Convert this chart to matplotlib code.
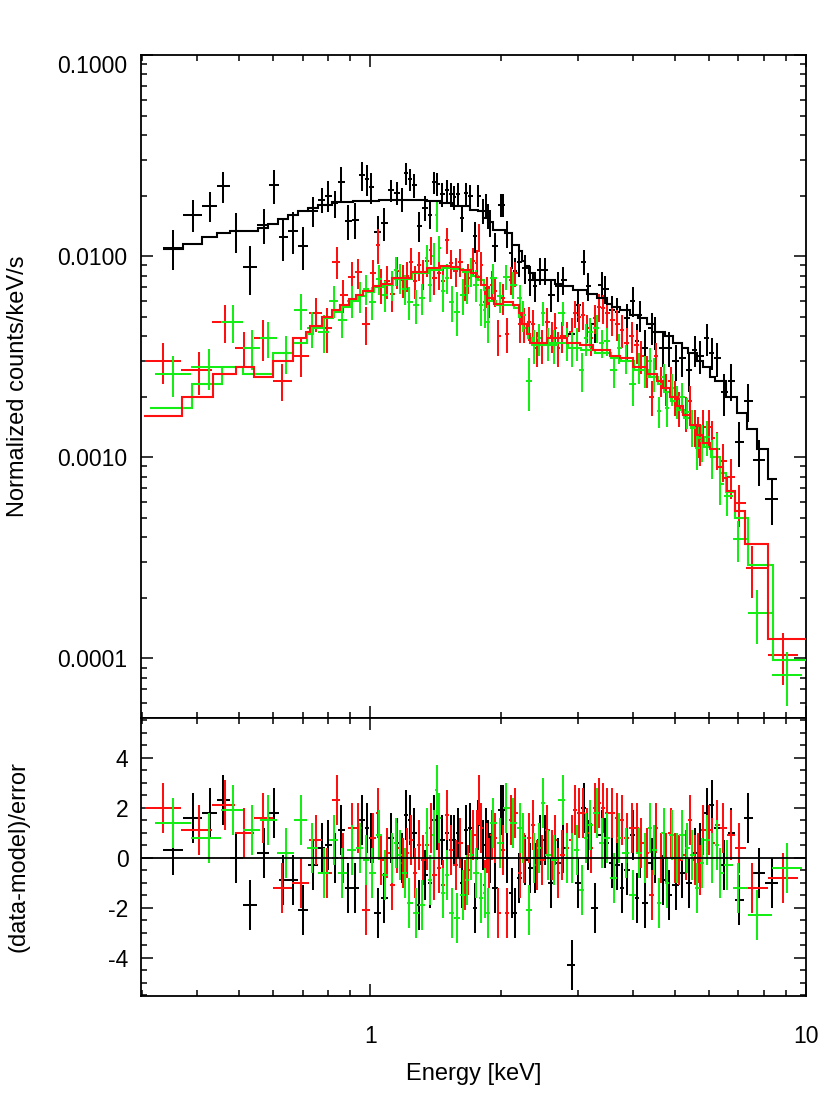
import numpy as np
import matplotlib
matplotlib.use("Agg")
import matplotlib.pyplot as plt
from matplotlib.ticker import FixedLocator, NullFormatter, MultipleLocator, FixedFormatter

plt.rcParams['font.family'] = ['Liberation Sans', 'DejaVu Sans']
plt.rcParams['axes.unicode_minus'] = False

# ---------------- data: black spectrum ----------------
black_E = [0.353, 0.393, 0.430, 0.460, 0.493, 0.531, 0.571, 0.603,
           0.632, 0.666, 0.702, 0.740, 0.776, 0.800, 0.831, 0.858,
           0.890, 0.924, 0.958, 0.984, 1.005, 1.040, 1.077, 1.117,
           1.153, 1.184, 1.210, 1.235, 1.262, 1.295, 1.337, 1.373,
           1.402, 1.424, 1.462, 1.501, 1.534, 1.558, 1.592, 1.626,
           1.660, 1.696, 1.741, 1.770, 1.815, 1.845, 1.864, 1.884,
           1.930, 1.997, 2.020, 2.060, 2.115, 2.150, 2.200, 2.270,
           2.330, 2.390, 2.450, 2.520, 2.600, 2.700, 2.770, 2.900,
           3.000, 3.090, 3.160, 3.280, 3.400, 3.460, 3.590, 3.690,
           3.780, 3.880, 4.010, 4.100, 4.160, 4.270, 4.430, 4.500,
           4.700, 4.850, 5.030, 5.200, 5.390, 5.560, 5.710, 5.930,
           6.080, 6.250, 6.490, 6.740, 7.020, 7.360, 7.800, 8.350]
black_rate = [0.0110, 0.0161, 0.0178, 0.0222, 0.0134, 0.0088, 0.0143, 0.0225,
              0.0125, 0.0134, 0.0112, 0.0168, 0.0191, 0.0200, 0.0183, 0.0233,
              0.0150, 0.0152, 0.0252, 0.0241, 0.0220, 0.0132, 0.0146, 0.0212,
              0.0207, 0.0191, 0.0258, 0.0241, 0.0225, 0.0141, 0.0174, 0.0161,
              0.0233, 0.0228, 0.0203, 0.0212, 0.0203, 0.0196, 0.0203, 0.0155,
              0.0205, 0.0200, 0.0126, 0.0200, 0.0168, 0.0180, 0.0159, 0.0147,
              0.0112, 0.0180, 0.0180, 0.0130, 0.0104, 0.0084, 0.0094, 0.0087,
              0.0076, 0.0071, 0.0085, 0.0085, 0.0064, 0.0071, 0.0076, 0.0041,
              0.0057, 0.0094, 0.0071, 0.0046, 0.0072, 0.0069, 0.0054, 0.0053,
              0.0043, 0.0049, 0.0060, 0.0038, 0.0051, 0.0035, 0.0044, 0.0042,
              0.0035, 0.0035, 0.0030, 0.0031, 0.0027, 0.0034, 0.0032, 0.0039,
              0.0033, 0.0031, 0.0021, 0.0024, 0.00119, 0.0019, 0.00097, 0.00062]
black_err = [0.0025, 0.0029, 0.0031, 0.0039, 0.0030, 0.0024, 0.0028, 0.0043,
             0.0030, 0.0031, 0.0027, 0.0028, 0.0028, 0.0035, 0.0028, 0.0044,
             0.0030, 0.0031, 0.0041, 0.0042, 0.0039, 0.0026, 0.0027, 0.0027,
             0.0027, 0.0026, 0.0032, 0.0031, 0.0030, 0.0024, 0.0025, 0.0025,
             0.0030, 0.0030, 0.0028, 0.0028, 0.0028, 0.0027, 0.0027, 0.0023,
             0.0027, 0.0026, 0.0022, 0.0025, 0.0024, 0.0024, 0.0023, 0.0022,
             0.0019, 0.0024, 0.0024, 0.0020, 0.0018, 0.0014, 0.0015, 0.0014,
             0.0013, 0.0012, 0.0013, 0.0013, 0.0011, 0.0012, 0.0012, 0.0007,
             0.0010, 0.0013, 0.0011, 0.0009, 0.0011, 0.0011, 0.0009, 0.0009,
             0.0008, 0.0009, 0.0010, 0.0008, 0.0009, 0.0008, 0.0008, 0.0008,
             0.0007, 0.0007, 0.0006, 0.0006, 0.0006, 0.0006, 0.0006, 0.0007,
             0.0006, 0.0006, 0.0005, 0.0005, 0.0003, 0.0004, 0.00025, 0.00016]
black_resid = [0.3, 1.6, 1.8, 2.3, 0.0, -1.9, 0.2, 1.8,
               -0.9, -0.9, -2.1, -0.3, 0.4, 0.5, 0.0, 1.1,
               -1.2, -1.2, 1.5, 1.2, 0.8, -2.2, -1.6, 0.8,
               0.6, 0.0, 1.7, 1.5, 1.0, -1.9, -0.7, -1.0,
               1.5, 1.3, 0.7, 1.0, 0.7, 0.7, 1.0, -1.0,
               1.1, 1.2, -2.0, 1.3, 0.5, 1.0, 0.5, 0.0,
               -1.2, 1.9, 1.9, 0.0, -1.4, -2.2, -0.8, -0.1,
               -0.4, -0.4, 0.7, 0.7, -1.0, -0.2, 0.4, -4.3,
               -1.0, 2.0, 0.5, -2.0, 0.9, 0.6, -0.2, -0.3,
               -1.2, -0.5, 0.9, -1.6, 0.2, -1.8, -0.2, 0.0,
               -0.9, -1.5, -1.1, -0.6, -1.0, 0.2, 0.4, 1.8,
               2.1, 1.2, -0.3, 1.0, -1.7, 1.6, -0.6, -1.0]
black_model_edges = [0.335, 0.373, 0.411, 0.446, 0.477, 0.553, 0.584, 0.615, 0.649, 0.684,
                     0.721, 0.760, 0.818, 0.914, 1.05, 1.35, 1.45, 1.55, 1.696, 1.77,
                     1.815, 1.864, 1.915, 2.04, 2.12, 2.20, 2.23, 2.27, 2.32, 2.36,
                     2.66, 2.76, 2.92, 3.15, 3.31, 3.50, 3.59, 3.74, 3.95, 4.11,
                     4.31, 4.50, 4.74, 4.95, 5.19, 5.36, 5.61, 5.79, 6.02, 6.19,
                     6.57, 6.94, 7.32, 7.70, 8.17, 8.60]
black_model = [0.0108, 0.0115, 0.0124, 0.0131, 0.0134, 0.0138, 0.0145, 0.0153, 0.0161, 0.0168,
               0.0174, 0.0180, 0.0185, 0.0189, 0.0191, 0.0187, 0.0183, 0.0178, 0.0170, 0.0168,
               0.0155, 0.0147, 0.0135, 0.0130, 0.0114, 0.0106, 0.0095, 0.0089, 0.0082, 0.0076,
               0.0073, 0.0071, 0.0068, 0.0065, 0.0062, 0.0058, 0.0056, 0.0054, 0.0051, 0.0049,
               0.0046, 0.0042, 0.0040, 0.0037, 0.0035, 0.0033, 0.0030, 0.0028, 0.0025, 0.0024,
               0.0020, 0.00166, 0.00138, 0.0011, 0.00078]

# ---------------- data: red spectrum ----------------
red_E = [0.335, 0.405, 0.465, 0.514, 0.568, 0.628, 0.695, 0.752,
         0.797, 0.840, 0.867, 0.909, 0.939, 0.979, 1.016, 1.043,
         1.060, 1.094, 1.123, 1.153, 1.190, 1.216, 1.242, 1.268,
         1.295, 1.323, 1.351, 1.380, 1.400, 1.440, 1.470, 1.500,
         1.530, 1.570, 1.610, 1.650, 1.680, 1.720, 1.760, 1.780,
         1.800, 1.830, 1.850, 1.870, 1.900, 1.930, 1.970, 2.020,
         2.060, 2.100, 2.150, 2.210, 2.250, 2.320, 2.360, 2.410,
         2.480, 2.550, 2.610, 2.660, 2.700, 2.760, 2.830, 2.900,
         2.950, 3.010, 3.080, 3.150, 3.210, 3.280, 3.350, 3.420,
         3.500, 3.590, 3.690, 3.780, 3.880, 3.990, 4.090, 4.180,
         4.310, 4.430, 4.520, 4.650, 4.770, 4.900, 5.000, 5.110,
         5.310, 5.420, 5.560, 5.650, 5.710, 5.800, 5.990, 6.090,
         6.250, 6.440, 6.720, 7.020, 7.530, 8.860]
red_rate = [0.0030, 0.0027, 0.0047, 0.0035, 0.0039, 0.0024, 0.0032, 0.0052,
            0.0044, 0.0094, 0.0064, 0.0079, 0.0083, 0.0046, 0.0082, 0.0114,
            0.0072, 0.0075, 0.0065, 0.0084, 0.0076, 0.0080, 0.0094, 0.0075,
            0.0090, 0.0082, 0.0095, 0.0107, 0.0078, 0.0082, 0.0075, 0.0120,
            0.0092, 0.0084, 0.0094, 0.0072, 0.0078, 0.0095, 0.0092, 0.0125,
            0.0090, 0.0059, 0.0067, 0.0060, 0.0072, 0.0067, 0.0040, 0.0062,
            0.0041, 0.0076, 0.0082, 0.0046, 0.0046, 0.0047, 0.0046, 0.0035,
            0.0036, 0.0047, 0.0040, 0.0044, 0.0035, 0.0040, 0.0040, 0.0042,
            0.0052, 0.0050, 0.0051, 0.0044, 0.0039, 0.0049, 0.0056, 0.0055,
            0.0052, 0.0048, 0.0046, 0.0043, 0.0037, 0.0040, 0.0036, 0.0032,
            0.0027, 0.0020, 0.0032, 0.0024, 0.0022, 0.0024, 0.0020, 0.00176,
            0.00166, 0.0019, 0.00142, 0.00129, 0.00118, 0.00142, 0.00142, 0.00125,
            0.00110, 0.00096, 0.00080, 0.00059, 0.00028, 0.000104]
red_err = [0.0007, 0.00065, 0.0010, 0.0007, 0.0009, 0.0005, 0.0007, 0.0010,
           0.0011, 0.0017, 0.0012, 0.0014, 0.0014, 0.0010, 0.0014, 0.0023,
           0.0014, 0.0014, 0.0012, 0.0015, 0.0014, 0.0014, 0.0016, 0.0014,
           0.0015, 0.0014, 0.0016, 0.0017, 0.0014, 0.0014, 0.0013, 0.0018,
           0.0015, 0.0014, 0.0015, 0.0012, 0.0013, 0.0015, 0.0015, 0.0020,
           0.0015, 0.0011, 0.0012, 0.0011, 0.0012, 0.0011, 0.0008, 0.0011,
           0.0008, 0.0012, 0.0012, 0.0009, 0.0009, 0.0009, 0.0008, 0.0007,
           0.0007, 0.0008, 0.0007, 0.0008, 0.0007, 0.0007, 0.0007, 0.0007,
           0.0008, 0.0008, 0.0008, 0.0007, 0.0007, 0.0008, 0.0009, 0.0009,
           0.0009, 0.0008, 0.0008, 0.0008, 0.0007, 0.0007, 0.0007, 0.0006,
           0.0005, 0.0004, 0.0005, 0.0004, 0.0004, 0.0004, 0.0004, 0.00035,
           0.00033, 0.00035, 0.0003, 0.0003, 0.00028, 0.0003, 0.0003, 0.00027,
           0.00024, 0.00021, 0.00018, 0.00014, 0.00008, 0.00003]
red_resid = [2.0, 1.1, 2.1, 1.0, 1.6, -1.2, -1.0, 0.7,
             -0.6, 2.3, 0.0, 1.2, 1.2, -2.1, 0.8, 1.8,
             -0.1, 0.2, -1.1, 0.4, -0.2, 0.2, 0.7, -0.6,
             0.5, -0.1, 0.5, 1.2, -0.7, -0.4, -1.1, 1.7,
             0.3, -0.3, 0.6, -1.1, -0.5, 0.9, 0.9, 2.3,
             1.2, -1.1, 0.4, -0.2, 0.9, 0.8, -2.2, 0.3,
             -2.2, 1.5, 1.8, -0.6, 0.0, 0.8, 1.3, -0.3,
             -0.1, 1.1, 0.1, 0.7, -0.6, 0.1, 0.4, 0.7,
             1.9, 1.8, 1.8, 1.0, 0.4, 2.0, 2.2, 2.0,
             1.8, 1.8, 1.6, 1.5, 0.8, 1.2, 1.2, 0.6,
             0.2, -1.5, 1.2, 0.0, 0.0, 1.0, 0.0, -0.1,
             0.1, 1.5, -0.1, 0.0, -0.5, 1.1, 1.1, 0.6,
             1.3, 1.2, 0.9, 0.4, -1.2, -0.8]
red_model_edges = [0.303, 0.37, 0.436, 0.493, 0.542, 0.60, 0.666, 0.713, 0.728, 0.776,
                   0.818, 0.853, 0.895, 0.929, 0.964, 1.016, 1.06, 1.12, 1.24, 1.35,
                   1.45, 1.53, 1.61, 1.70, 1.75, 1.80, 1.85, 1.92, 2.02, 2.13,
                   2.19, 2.23, 2.29, 2.33, 2.55, 2.83, 3.03, 3.25, 3.55, 3.74,
                   4.01, 4.31, 4.55, 4.70, 4.87, 5.05, 5.22, 5.42, 5.61, 5.80,
                   6.02, 6.25, 6.44, 6.60, 6.87, 7.25, 8.17, 10.0]
red_model = [0.0016, 0.0020, 0.0026, 0.0028, 0.0025, 0.0030, 0.0039, 0.0042, 0.0045, 0.0050,
             0.0054, 0.0057, 0.0061, 0.0064, 0.0067, 0.0071, 0.0073, 0.0078, 0.0083, 0.0087,
             0.0089, 0.0088, 0.0085, 0.0082, 0.0079, 0.0072, 0.0062, 0.0058, 0.0059, 0.0057,
             0.0052, 0.0046, 0.0041, 0.0037, 0.0039, 0.0037, 0.0036, 0.0034, 0.0032, 0.0031,
             0.0028, 0.0026, 0.0024, 0.0022, 0.0020, 0.0018, 0.00163, 0.00145, 0.00129, 0.00118,
             0.0011, 0.00089, 0.00079, 0.00068, 0.00054, 0.00037, 0.000125]

# ---------------- data: green spectrum ----------------
green_E = [0.353, 0.427, 0.485, 0.536, 0.584, 0.642, 0.695, 0.736,
           0.784, 0.827, 0.863, 0.909, 0.949, 0.979, 1.010, 1.048,
           1.080, 1.120, 1.147, 1.170, 1.200, 1.230, 1.275, 1.316,
           1.350, 1.370, 1.400, 1.420, 1.440, 1.470, 1.500, 1.540,
           1.580, 1.630, 1.670, 1.700, 1.750, 1.800, 1.830, 1.860,
           1.915, 1.990, 2.050, 2.130, 2.210, 2.240, 2.320, 2.380,
           2.440, 2.490, 2.560, 2.640, 2.770, 2.830, 2.900, 2.980,
           3.060, 3.130, 3.190, 3.310, 3.400, 3.490, 3.630, 3.720,
           3.860, 4.010, 4.140, 4.270, 4.390, 4.480, 4.600, 4.720,
           4.800, 4.920, 5.060, 5.190, 5.340, 5.480, 5.630, 5.770,
           5.930, 6.090, 6.250, 6.350, 6.600, 6.990, 7.720, 9.030]
green_rate = [0.0026, 0.0028, 0.0047, 0.0035, 0.0039, 0.0033, 0.0054, 0.0044,
              0.0042, 0.0060, 0.0048, 0.0060, 0.0063, 0.0069, 0.0059, 0.0077,
              0.0064, 0.0072, 0.0085, 0.0078, 0.0069, 0.0059, 0.0057, 0.0062,
              0.0098, 0.0072, 0.0100, 0.0160, 0.0110, 0.0067, 0.0078, 0.0059,
              0.0053, 0.0064, 0.0071, 0.0084, 0.0072, 0.0057, 0.0054, 0.0047,
              0.0078, 0.0063, 0.0079, 0.0072, 0.0062, 0.0051, 0.0024, 0.0036,
              0.0039, 0.0052, 0.0037, 0.0036, 0.0052, 0.0037, 0.0035, 0.0037,
              0.0027, 0.0039, 0.0042, 0.0044, 0.0037, 0.0038, 0.0027, 0.0035,
              0.0031, 0.0023, 0.0028, 0.0027, 0.0030, 0.0026, 0.0017, 0.0025,
              0.00176, 0.0022, 0.0019, 0.0020, 0.00168, 0.00142, 0.00111, 0.0012,
              0.00126, 0.0010, 0.0011, 0.00074, 0.00064, 0.00039, 0.000168, 0.000083]
green_err = [0.0006, 0.00065, 0.0010, 0.0008, 0.0008, 0.0007, 0.0011, 0.0009,
             0.0009, 0.0011, 0.0009, 0.0011, 0.0011, 0.0012, 0.0011, 0.0013,
             0.0011, 0.0012, 0.0014, 0.0013, 0.0012, 0.0011, 0.0011, 0.0011,
             0.0016, 0.0013, 0.0016, 0.0028, 0.0016, 0.0014, 0.0013, 0.0012,
             0.0013, 0.0013, 0.0013, 0.0014, 0.0013, 0.0012, 0.0010, 0.0010,
             0.0013, 0.0011, 0.0011, 0.0011, 0.0010, 0.0009, 0.0007, 0.0007,
             0.0007, 0.0007, 0.0007, 0.0007, 0.0007, 0.0007, 0.0007, 0.0007,
             0.0006, 0.0007, 0.0007, 0.0007, 0.0006, 0.0006, 0.0005, 0.0006,
             0.0005, 0.0005, 0.0005, 0.0005, 0.0005, 0.0005, 0.0003, 0.0004,
             0.00035, 0.0004, 0.00035, 0.00035, 0.0003, 0.0003, 0.00025, 0.00025,
             0.00025, 0.00022, 0.00022, 0.00016, 0.00013, 0.00009, 0.00005, 0.000025]
green_resid = [1.4, 0.8, 1.9, 1.1, 1.5, 0.2, 1.5, 0.4,
               -0.6, 0.7, -0.6, 0.3, 0.4, -0.1, -0.6, 0.9,
               -0.7, 0.0, 0.6, 0.1, -0.6, -1.8, -2.2, -1.9,
               1.0, -0.9, 0.9, 2.7, 1.6, -1.4, -0.7, -2.2,
               -2.4, -1.5, -0.9, 0.1, -0.6, -1.6, -1.4, -2.2,
               1.4, 0.6, 2.0, 1.4, 1.2, 0.8, -2.1, 0.0,
               0.4, 2.2, 0.1, -0.1, 2.3, 0.0, 0.0, 0.3,
               -1.3, 0.8, 1.3, 1.8, 0.6, 0.8, -0.8, 0.8,
               0.2, -1.5, 0.2, 0.0, 1.2, 0.3, -1.8, 1.0,
               -1.0, 0.9, 0.0, 0.9, 0.4, 0.1, -1.2, -0.2,
               0.7, 0.0, 0.5, -0.6, -0.3, -1.2, -2.3, -0.4]
green_model_edges = [0.313, 0.39, 0.458, 0.511, 0.60, 0.666, 0.717, 0.74, 0.78, 0.82,
                     0.86, 0.90, 0.94, 0.98, 1.02, 1.07, 1.13, 1.25, 1.36, 1.46,
                     1.55, 1.63, 1.71, 1.77, 1.82, 1.87, 1.94, 2.04, 2.14, 2.20,
                     2.24, 2.30, 2.35, 2.58, 2.85, 3.05, 3.28, 3.57, 3.76, 4.03,
                     4.33, 4.57, 4.72, 4.90, 5.08, 5.25, 5.45, 5.64, 5.83, 6.05,
                     6.35, 6.57, 6.87, 7.36, 8.38, 10.0]
green_model = [0.00176, 0.0023, 0.0028, 0.0026, 0.0033, 0.0037, 0.0041, 0.0044, 0.0049, 0.0053,
               0.0056, 0.0060, 0.0063, 0.0066, 0.0070, 0.0072, 0.0077, 0.0082, 0.0085, 0.0087,
               0.0086, 0.0083, 0.0080, 0.0076, 0.0068, 0.0060, 0.0057, 0.0057, 0.0055, 0.0050,
               0.0044, 0.0039, 0.0036, 0.0037, 0.0035, 0.0034, 0.0033, 0.0031, 0.0030, 0.0027,
               0.0025, 0.0023, 0.0021, 0.0019, 0.00172, 0.00156, 0.00139, 0.00124, 0.00112, 0.00100,
               0.00083, 0.00067, 0.00050, 0.00029, 0.0000977]

y_tick_values = [1e-4, 1e-3, 1e-2, 1e-1]
y_tick_labels = ['0.0001', '0.0010', '0.0100', '0.1000']
x_tick_values = [1, 10]
x_tick_labels = ['1', '10']
res_tick_values = [-4, -2, 0, 2, 4]
res_tick_labels = ['-4', '-2', '0', '2', '4']

COL_BLACK = '#000000'
COL_RED = '#ff1010'
COL_GREEN = '#14ee14'


def bin_halfwidths(E):
    """Contiguous energy bins: edges halfway (in log) between channel centres."""
    E = np.asarray(E, dtype=float)
    mids = np.sqrt(E[:-1] * E[1:])
    lo = np.concatenate([[E[0] ** 2 / mids[0]], mids])
    hi = np.concatenate([mids, [E[-1] ** 2 / mids[-1]]])
    return np.vstack([E - lo, hi - E])


fig = plt.figure(figsize=(8.3, 11.07), dpi=100)
L, W = 141 / 830, 665 / 830
ax1 = fig.add_axes([L, 1 - 718 / 1107, W, 663 / 1107])
ax2 = fig.add_axes([L, 1 - 996 / 1107, W, 278 / 1107], sharex=ax1)

series = [
    (black_E, black_rate, black_err, black_resid, COL_BLACK),
    (red_E, red_rate, red_err, red_resid, COL_RED),
    (green_E, green_rate, green_err, green_resid, COL_GREEN),
]
ELW = 1.45
for E, rate, err, resid, col in series:
    xe = bin_halfwidths(E)
    ax1.errorbar(E, rate, xerr=xe, yerr=err, fmt='none', ecolor=col,
                 elinewidth=ELW, capsize=0, zorder=3)
    ax2.errorbar(E, resid, xerr=xe, yerr=np.ones(len(E)), fmt='none', ecolor=col,
                 elinewidth=ELW, capsize=0, zorder=3)

ax1.stairs(black_model, black_model_edges, baseline=None, color=COL_BLACK, lw=1.5, zorder=4)
ax1.stairs(green_model, green_model_edges, baseline=None, color=COL_GREEN, lw=1.5, zorder=4)
ax1.stairs(red_model, red_model_edges, baseline=None, color=COL_RED, lw=1.5, zorder=5)

ax2.axhline(0, color='black', lw=1.3, zorder=6)

# axes styling
ax1.set_xscale('log')
ax1.set_yscale('log')
ax1.set_xlim(0.298, 10.0)
ax1.set_ylim(5.05e-5, 0.1)
ax2.set_ylim(-5.53, 5.59)

for ax in (ax1, ax2):
    for sp in ax.spines.values():
        sp.set_linewidth(1.3)
    ax.tick_params(which='both', direction='in', top=True, right=True, width=1.1,
                   labelsize=16.5)
    ax.tick_params(which='major', length=8.5)
    ax.tick_params(which='minor', length=4.5)

ax1.yaxis.set_major_locator(FixedLocator(y_tick_values))
ax1.yaxis.set_major_formatter(FixedFormatter(y_tick_labels))
ax1.yaxis.set_minor_formatter(NullFormatter())
ax1.tick_params(axis='y', pad=10)
ax1.tick_params(axis='x', labelbottom=False)
for lab in ax1.get_yticklabels():
    if lab.get_text() == '0.1000':
        lab.set_verticalalignment('top')

ax2.xaxis.set_major_locator(FixedLocator(x_tick_values))
ax2.xaxis.set_major_formatter(FixedFormatter(x_tick_labels))
ax2.xaxis.set_minor_formatter(NullFormatter())
ax2.yaxis.set_major_locator(FixedLocator(res_tick_values))
ax2.yaxis.set_major_formatter(FixedFormatter(res_tick_labels))
ax2.yaxis.set_minor_locator(MultipleLocator(0.5))
ax2.tick_params(axis='x', pad=21)
ax2.tick_params(axis='y', pad=9)

ax1.set_ylabel('Normalized counts/keV/s', fontsize=17)
ax2.set_ylabel('(data-model)/error', fontsize=17)
ax2.set_xlabel('Energy [keV]', fontsize=17, labelpad=11)
ax1.yaxis.set_label_coords(-0.168, 0.5)
ax2.yaxis.set_label_coords(-0.168, 0.5)

fig.savefig('out.png', dpi=100)
